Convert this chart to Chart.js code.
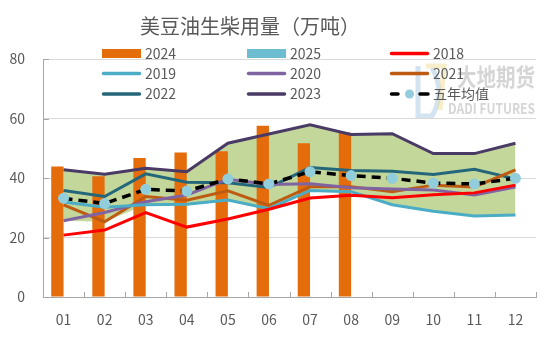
<!DOCTYPE html>
<html lang="zh">
<head>
<meta charset="UTF-8">
<title>美豆油生柴用量（万吨）</title>
<script src="https://cdn.jsdelivr.net/npm/chart.js"></script>
<style>
  body { margin: 0; background: #fff; }
</style>
</head>
<body>
<canvas id="dieselChart" width="550" height="337"></canvas>

<script>
    const months = ['01', '02', '03', '04', '05', '06', '07', '08', '09', '10', '11', '12'];
    const yTicks = [0, 20, 40, 60, 80];

    const s2024 = [43.9, 40.6, 46.7, 48.6, 49.0, 57.6, 51.7, 55.2, null, null, null, null];
    const s2025 = [null, null, null, null, null, null, null, null, null, null, null, null];
    const s2018 = [20.8, 22.5, 28.4, 23.5, 26.2, 29.5, 33.3, 34.2, 33.4, 34.4, 35.0, 37.6];
    const s2019 = [31.9, 30.2, 31.0, 31.2, 32.6, 29.7, 35.8, 35.4, 31.0, 28.8, 27.2, 27.6];
    const s2020 = [25.6, 28.4, 32.0, 34.3, 39.6, 37.8, 38.1, 36.7, 36.3, 36.0, 34.3, 37.0];
    const s2021 = [31.0, 25.3, 33.8, 32.5, 35.7, 30.8, 37.1, 37.1, 35.4, 37.6, 37.0, 42.7];
    const s2022 = [35.8, 33.8, 41.4, 38.6, 38.4, 36.8, 43.5, 42.5, 42.3, 41.2, 42.9, 39.7];
    const s2023 = [42.8, 41.3, 43.3, 42.1, 51.7, 54.8, 57.9, 54.6, 54.9, 48.2, 48.2, 51.7];
    const avg5 = [33.2, 31.4, 36.2, 35.6, 39.7, 38.0, 42.1, 40.8, 39.9, 38.3, 38.0, 39.9];

    // shaded range = min/max of 2019-2023
    const fiveYears = [s2019, s2020, s2021, s2022, s2023];
    const bandLow = months.map((m, i) => Math.min(...fiveYears.map(s => s[i])));
    const bandHigh = months.map((m, i) => Math.max(...fiveYears.map(s => s[i])));

    const FONT = '"Noto Sans CJK SC", "Noto Sans", sans-serif';
    const TEXT = '#595959';

    function lineSet(label, data, color) {
        return {
            type: 'line', label: label, data: data,
            borderColor: color, backgroundColor: color,
            borderWidth: 3, pointRadius: 0, tension: 0, fill: false, order: 2
        };
    }

    const datasets = [
        { type: 'line', label: 'low', data: bandLow, borderWidth: 0, pointRadius: 0, fill: false, order: 10 },
        { type: 'line', label: 'high', data: bandHigh, borderWidth: 0, pointRadius: 0,
          fill: '-1', backgroundColor: '#C4D79B', order: 9 },
        { type: 'bar', label: '2024', data: s2024, backgroundColor: '#E46C0A', order: 5,
          categoryPercentage: 0.6, barPercentage: 1 },
        { type: 'bar', label: '2025', data: s2025, backgroundColor: '#6DBDD1', order: 5,
          categoryPercentage: 0.6, barPercentage: 1 },
        lineSet('2018', s2018, '#FF0000'),
        lineSet('2019', s2019, '#4BACC6'),
        lineSet('2020', s2020, '#8064A2'),
        lineSet('2021', s2021, '#BE5B12'),
        lineSet('2022', s2022, '#24677A'),
        lineSet('2023', s2023, '#4A3A66'),
        { type: 'line', label: '五年均值', data: avg5, borderColor: '#000000', borderWidth: 3.5,
          borderDash: [9, 6], pointRadius: 5.5, pointBorderWidth: 0,
          pointBackgroundColor: '#92CDDC', tension: 0, fill: false, order: 1 }
    ];

    // watermark + title, behind everything
    const backdrop = {
        id: 'backdrop',
        beforeDraw(chart) {
            const ctx = chart.ctx;
            ctx.save();
            ctx.fillStyle = '#fff';
            ctx.fillRect(0, 0, chart.width, chart.height);

            ctx.lineWidth = 5;
            ctx.strokeStyle = 'rgba(170,200,225,0.5)';
            ctx.beginPath();
            ctx.moveTo(418, 66); ctx.lineTo(418, 116); ctx.lineTo(432, 116);
            ctx.quadraticCurveTo(446, 92, 432, 68);
            ctx.stroke();
            ctx.strokeStyle = 'rgba(240,220,150,0.5)';
            ctx.beginPath();
            ctx.moveTo(426, 66); ctx.lineTo(444, 66); ctx.lineTo(440, 110);
            ctx.stroke();

            ctx.fillStyle = 'rgba(190,190,190,0.65)';
            ctx.textBaseline = 'middle';
            ctx.font = 'bold 24px ' + FONT;
            ctx.fillText('大地期货', 457, 77, 78);
            ctx.font = 'bold 14px ' + FONT;
            ctx.fillText('DADI FUTURES', 448, 109, 87);

            ctx.fillStyle = TEXT;
            ctx.textAlign = 'center';
            ctx.font = '20px ' + FONT;
            ctx.fillText('美豆油生柴用量（万吨）', 250, 26);
            ctx.restore();
        }
    };

    // short inward tick marks on both axes
    const innerTicks = {
        id: 'innerTicks',
        afterDatasetsDraw(chart) {
            const ctx = chart.ctx;
            const area = chart.chartArea;
            const y = chart.scales.y;
            const step = (area.right - area.left) / months.length;
            ctx.save();
            ctx.strokeStyle = '#a6a6a6';
            ctx.lineWidth = 1;
            ctx.beginPath();
            for (let i = 1; i <= months.length; i++) {
                const px = Math.round(area.left + i * step) + 0.5;
                ctx.moveTo(px, area.bottom);
                ctx.lineTo(px, area.bottom - 5);
            }
            yTicks.slice(1).forEach(v => {
                const py = Math.round(y.getPixelForValue(v)) + 0.5;
                ctx.moveTo(area.left, py);
                ctx.lineTo(area.left + 6, py);
            });
            ctx.stroke();
            ctx.restore();
        }
    };

    // legend drawn as a 3x3 grid over the top of the plot
    const gridLegend = {
        id: 'gridLegend',
        afterDraw(chart) {
            const ctx = chart.ctx;
            const cols = [102, 247, 390];
            const rows = [53.5, 73.5, 94];
            const items = chart.data.datasets.slice(2);
            ctx.save();
            items.forEach((ds, i) => {
                const x = cols[i % 3];
                const y = rows[Math.floor(i / 3)];
                if (ds.type === 'bar') {
                    ctx.fillStyle = ds.backgroundColor;
                    ctx.fillRect(x, y - 4.5, 39, 9);
                } else if (ds.borderDash) {
                    ctx.strokeStyle = '#000';
                    ctx.lineWidth = 3.5;
                    ctx.lineCap = 'round';
                    ctx.beginPath();
                    ctx.moveTo(x + 1.5, y); ctx.lineTo(x + 8, y);
                    ctx.moveTo(x + 30, y); ctx.lineTo(x + 38, y);
                    ctx.stroke();
                    ctx.fillStyle = ds.pointBackgroundColor;
                    ctx.beginPath();
                    ctx.arc(x + 19.5, y, 4.5, 0, Math.PI * 2);
                    ctx.fill();
                } else {
                    ctx.strokeStyle = ds.borderColor;
                    ctx.lineWidth = 3.5;
                    ctx.lineCap = 'round';
                    ctx.beginPath();
                    ctx.moveTo(x + 1.5, y);
                    ctx.lineTo(x + 37.5, y);
                    ctx.stroke();
                }
                ctx.fillStyle = TEXT;
                ctx.font = '14px ' + FONT;
                ctx.textBaseline = 'middle';
                ctx.fillText(ds.label, x + 43, y);
            });
            ctx.restore();
        }
    };

    const ctx = document.getElementById('dieselChart').getContext('2d');
    new Chart(ctx, {
        data: { labels: months, datasets: datasets },
        plugins: [backdrop, innerTicks, gridLegend],
        options: {
            responsive: false,
            devicePixelRatio: 1,
            animation: false,
            layout: { padding: { top: 59, right: 14, bottom: 0, left: 0 } },
            plugins: {
                legend: { display: false },
                title: { display: false },
                tooltip: { enabled: false }
            },
            scales: {
                x: {
                    offset: true,
                    grid: { display: true, drawOnChartArea: false, drawTicks: false },
                    border: { color: '#a6a6a6', width: 1 },
                    ticks: { color: TEXT, font: { family: FONT, size: 14 }, padding: 14 },
                    afterFit(scale) { scale.height = 40; }
                },
                y: {
                    min: 0, max: 80,
                    afterBuildTicks(scale) { scale.ticks = yTicks.map(v => ({ value: v })); },
                    grid: { color: '#d9d9d9', drawTicks: false },
                    border: { color: '#a6a6a6', width: 1 },
                    ticks: { color: TEXT, font: { family: FONT, size: 14 }, padding: 18 },
                    afterFit(scale) { scale.width = 43; }
                }
            }
        }
    });
</script>
</body>
</html>
